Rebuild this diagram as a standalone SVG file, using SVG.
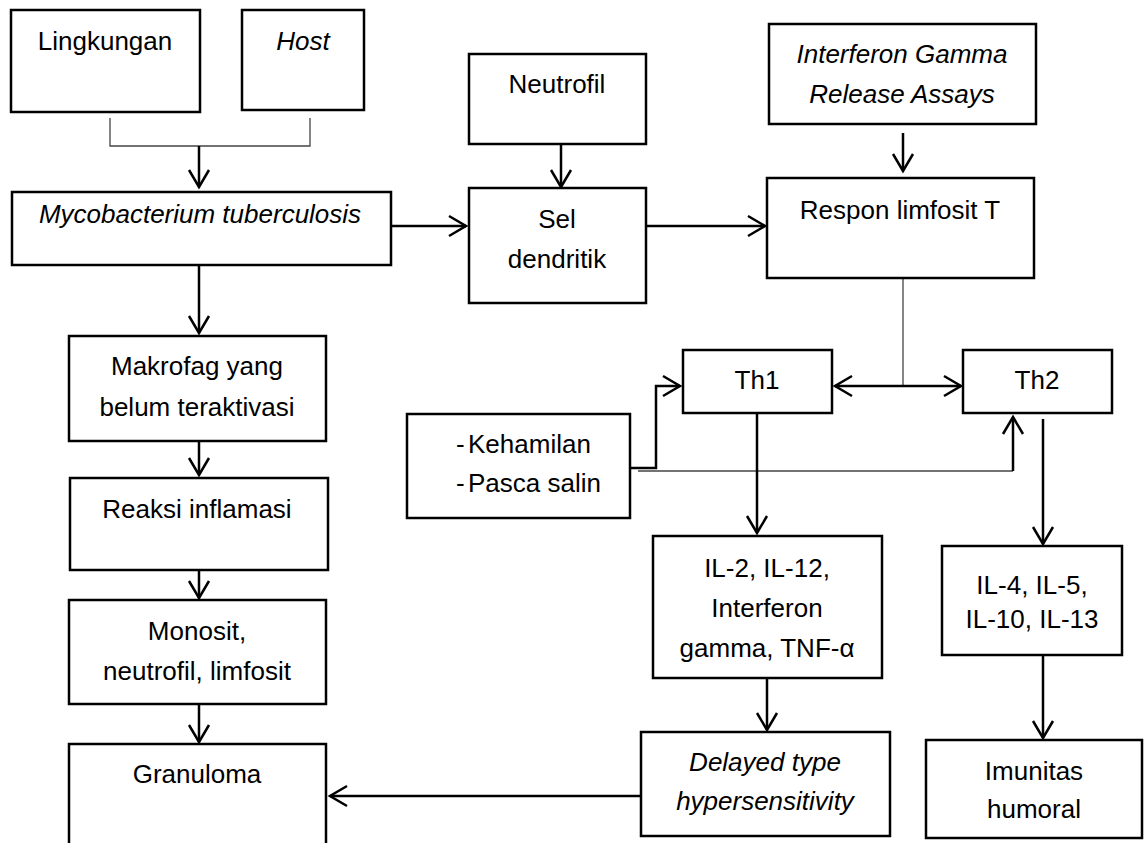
<svg xmlns="http://www.w3.org/2000/svg" width="1145" height="843" viewBox="0 0 1145 843">
<style>
rect.box{fill:#fff;stroke:#000;stroke-width:2.5}
text{font-family:"Liberation Sans",Arial,sans-serif;font-size:26px;fill:#000;text-anchor:middle}
text.it{font-style:italic}
.thick{fill:none;stroke:#000;stroke-width:2.5}
.thin{fill:none;stroke:#444;stroke-width:1.3}
</style>
<defs>
<marker id="ah" viewBox="-20 -12 24 24" refX="0" refY="0" markerWidth="24" markerHeight="24" markerUnits="userSpaceOnUse" orient="auto-start-reverse">
<path d="M-17,-10 L0,0 L-17,10" fill="none" stroke="#000" stroke-width="2.5"/>
</marker>
</defs>
<rect width="1145" height="843" fill="#fff"/>
<g id="connectors">
<path class="thin" d="M110,118 V146 H310 V118"/>
<path class="thick" d="M199,146 V187" marker-end="url(#ah)"/>
<path class="thick" d="M391,226 H466" marker-end="url(#ah)"/>
<path class="thick" d="M646,226 H765" marker-end="url(#ah)"/>
<path class="thick" d="M561,144 V187" marker-end="url(#ah)"/>
<path class="thick" d="M903,133 V171" marker-end="url(#ah)"/>
<path class="thin" d="M903,278 V386"/>
<path class="thick" d="M835,386 H961" marker-start="url(#ah)" marker-end="url(#ah)"/>
<path class="thick" d="M630,468 H656 V386 H680" marker-end="url(#ah)"/>
<path class="thin" d="M638,471 H1013"/>
<path class="thick" d="M1013,471 V417" marker-end="url(#ah)"/>
<path class="thick" d="M757,413 V533" marker-end="url(#ah)"/>
<path class="thick" d="M1043,419 V544" marker-end="url(#ah)"/>
<path class="thick" d="M767,678 V730" marker-end="url(#ah)"/>
<path class="thick" d="M1043,655 V738" marker-end="url(#ah)"/>
<path class="thick" d="M645,796 H330" marker-end="url(#ah)"/>
<path class="thick" d="M199,265 V333" marker-end="url(#ah)"/>
<path class="thick" d="M199,441 V475" marker-end="url(#ah)"/>
<path class="thick" d="M199,570 V598" marker-end="url(#ah)"/>
<path class="thick" d="M199,704 V742" marker-end="url(#ah)"/>
</g>
<g id="lingkungan"><rect class="box" x="11" y="10" width="189" height="102"/><text x="105" y="50">Lingkungan</text></g>
<g id="host"><rect class="box" x="242" y="10" width="122" height="100"/><text class="it" x="303" y="50">Host</text></g>
<g id="mycobacterium"><rect class="box" x="12" y="192" width="379" height="73"/><text class="it" x="200" y="223">Mycobacterium tuberculosis</text></g>
<g id="neutrofil"><rect class="box" x="469" y="54" width="177" height="90"/><text x="557" y="93">Neutrofil</text></g>
<g id="sel-dendritik"><rect class="box" x="469" y="188" width="177" height="115"/><text x="557" y="228">Sel</text><text x="557" y="268">dendritik</text></g>
<g id="igra"><rect class="box" x="769" y="24" width="267" height="100"/><text class="it" x="902" y="63">Interferon Gamma</text><text class="it" x="902" y="103">Release Assays</text></g>
<g id="respon"><rect class="box" x="767" y="178" width="267" height="100"/><text x="900" y="219">Respon limfosit T</text></g>
<g id="th1"><rect class="box" x="683" y="350" width="149" height="63"/><text x="757" y="389">Th1</text></g>
<g id="th2"><rect class="box" x="963" y="350" width="149" height="63"/><text x="1037" y="389">Th2</text></g>
<g id="kehamilan"><rect class="box" x="407" y="414" width="223" height="104"/>
<text style="text-anchor:start" y="453"><tspan x="456">-</tspan><tspan x="468">Kehamilan</tspan></text>
<text style="text-anchor:start" y="492"><tspan x="456">-</tspan><tspan x="468">Pasca salin</tspan></text></g>
<g id="makrofag"><rect class="box" x="69" y="336" width="257" height="105"/><text x="197" y="375">Makrofag yang</text><text x="197" y="416">belum teraktivasi</text></g>
<g id="reaksi"><rect class="box" x="70" y="478" width="258" height="92"/><text x="197" y="518">Reaksi inflamasi</text></g>
<g id="monosit"><rect class="box" x="69" y="600" width="257" height="104"/><text x="197" y="640">Monosit,</text><text x="197" y="680">neutrofil, limfosit</text></g>
<g id="granuloma"><rect class="box" x="69" y="744" width="257" height="110"/><text x="197" y="783">Granuloma</text></g>
<g id="il2"><rect class="box" x="653" y="536" width="229" height="142"/><text x="767" y="577">IL-2, IL-12,</text><text x="767" y="617">Interferon</text><text x="767" y="657">gamma, TNF-α</text></g>
<g id="il4"><rect class="box" x="942" y="546" width="180" height="109"/><text x="1032" y="594">IL-4, IL-5,</text><text x="1032" y="628">IL-10, IL-13</text></g>
<g id="delayed"><rect class="box" x="641" y="732" width="249" height="104"/><text class="it" x="765" y="771">Delayed type</text><text class="it" x="765" y="810">hypersensitivity</text></g>
<g id="imunitas"><rect class="box" x="926" y="740" width="216" height="98"/><text x="1034" y="780">Imunitas</text><text x="1034" y="818">humoral</text></g>
</svg>
